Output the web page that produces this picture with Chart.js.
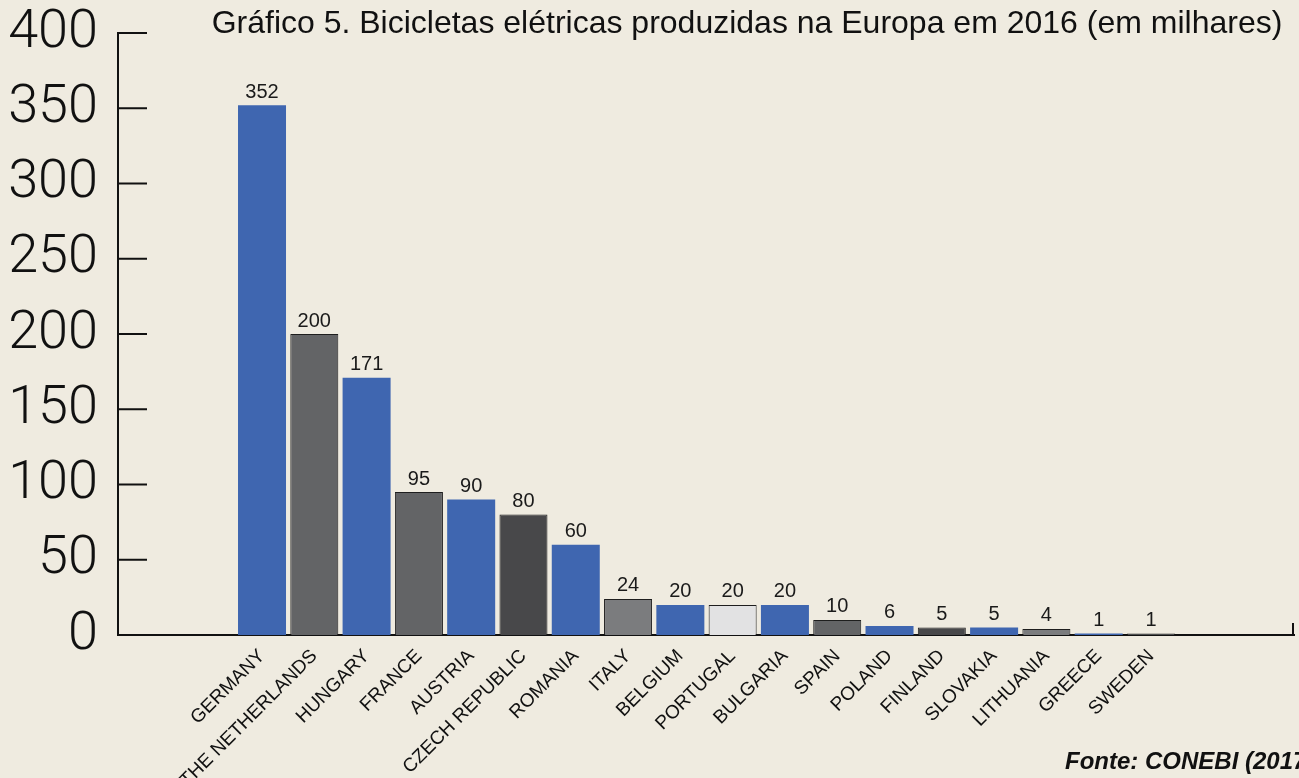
<!DOCTYPE html>
<html>
<head>
<meta charset="utf-8">
<script src="https://cdn.jsdelivr.net/npm/chart.js@4.4.1/dist/chart.umd.min.js"></script>
<style>
  body { margin: 0; background: #efebe0; }
  #wrap { width: 1299px; height: 778px; }
</style>
</head>
<body>
<div id="wrap"><canvas id="chart" width="1299" height="778"></canvas></div>
<script>
// Bicicletas elétricas produzidas na Europa em 2016 (milhares)
const countries = ['GERMANY', 'THE NETHERLANDS', 'HUNGARY', 'FRANCE', 'AUSTRIA', 'CZECH REPUBLIC',
  'ROMANIA', 'ITALY', 'BELGIUM', 'PORTUGAL', 'BULGARIA', 'SPAIN', 'POLAND', 'FINLAND',
  'SLOVAKIA', 'LITHUANIA', 'GREECE', 'SWEDEN'];
const produced = [352, 200, 171, 95, 90, 80, 60, 24, 20, 20, 20, 10, 6, 5, 5, 4, 1, 1];

const titleText = 'Gráfico 5. Bicicletas elétricas produzidas na Europa em 2016 (em milhares)';
const sourceText = 'Fonte: CONEBI (2017)';

const BLUE = '#3f66b0', GREY = '#636466', DARK = '#48484a', MID = '#7b7c7e', LIGHT = '#e2e2e3';
const barColors = [BLUE, GREY, BLUE, GREY, BLUE, DARK, BLUE, MID, BLUE, LIGHT, BLUE, GREY,
  BLUE, DARK, BLUE, MID, BLUE, GREY];

const points = produced.map((v, i) => ({ x: i, y: v }));

// value labels on top of bars
const valueLabels = {
  id: 'valueLabels',
  afterDatasetsDraw(chart) {
    const ctx = chart.ctx;
    const meta = chart.getDatasetMeta(0);
    ctx.save();
    ctx.font = '20px "Liberation Sans", Arial, sans-serif';
    ctx.fillStyle = '#1a1a1a';
    ctx.textAlign = 'center';
    ctx.textBaseline = 'bottom';
    meta.data.forEach((bar, i) => {
      ctx.fillText(produced[i], bar.x, bar.y - 3);
    });
    ctx.restore();
  }
};

// y tick marks pointing into the plot, title and source
const decorations = {
  id: 'decorations',
  afterDraw(chart) {
    const ctx = chart.ctx;
    const y = chart.scales.y;
    const area = chart.chartArea;
    ctx.save();
    ctx.strokeStyle = '#111';
    ctx.lineWidth = 2;
    y.ticks.forEach(t => {
      const py = y.getPixelForValue(t.value);
      ctx.beginPath();
      ctx.moveTo(area.left, py);
      ctx.lineTo(area.left + 29, py);
      ctx.stroke();
    });
    ctx.beginPath();
    ctx.moveTo(area.right - 1, area.bottom);
    ctx.lineTo(area.right - 1, area.bottom - 12);
    ctx.stroke();

    ctx.fillStyle = '#111';
    ctx.font = '32px "Liberation Sans", Arial, sans-serif';
    ctx.textAlign = 'center';
    ctx.textBaseline = 'alphabetic';
    ctx.fillText(titleText, 747, 33);

    ctx.font = 'italic bold 24px "Liberation Sans", Arial, sans-serif';
    ctx.textAlign = 'left';
    ctx.fillText(sourceText, 1065, 769);
    ctx.restore();
  }
};

new Chart(document.getElementById('chart'), {
  type: 'bar',
  data: {
    datasets: [{
      data: points,
      backgroundColor: barColors,
      borderColor: '#1e1e1e',
      borderWidth: barColors.map(c => c === BLUE ? 0 : 1),
      categoryPercentage: 1,
      barPercentage: 0.918
    }]
  },
  options: {
    responsive: false,
    animation: false,
    layout: { padding: { top: 33, right: 5, left: 0, bottom: 0 } },
    plugins: {
      legend: { display: false },
      tooltip: { enabled: false }
    },
    scales: {
      x: {
        type: 'linear',
        offset: false,
        min: -2.754,
        max: 19.735,
        grid: { display: false },
        border: { color: '#111', width: 2 },
        afterBuildTicks: scale => { scale.ticks = countries.map((c, i) => ({ value: i })); },
        afterFit: scale => {
          scale.height = 143;
          scale.paddingLeft = 0;
          scale.paddingRight = 0;
        },
        ticks: {
          autoSkip: false,
          minRotation: 45,
          maxRotation: 45,
          padding: 2,
          color: '#111',
          font: { family: '"Liberation Sans", Arial, sans-serif', size: 19 },
          callback: v => countries[v] ?? ''
        }
      },
      y: {
        min: 0,
        max: 400,
        grid: { display: false },
        border: { color: '#111', width: 2 },
        afterFit: scale => {
          scale.width = 118;
          scale.paddingTop = 0;
          scale.paddingBottom = 0;
        },
        ticks: {
          stepSize: 50,
          padding: 12,
          color: '#111',
          font: { family: 'Roboto, "Liberation Sans", sans-serif', size: 54, weight: 300 }
        }
      }
    }
  },
  plugins: [valueLabels, decorations]
});
</script>
</body>
</html>
